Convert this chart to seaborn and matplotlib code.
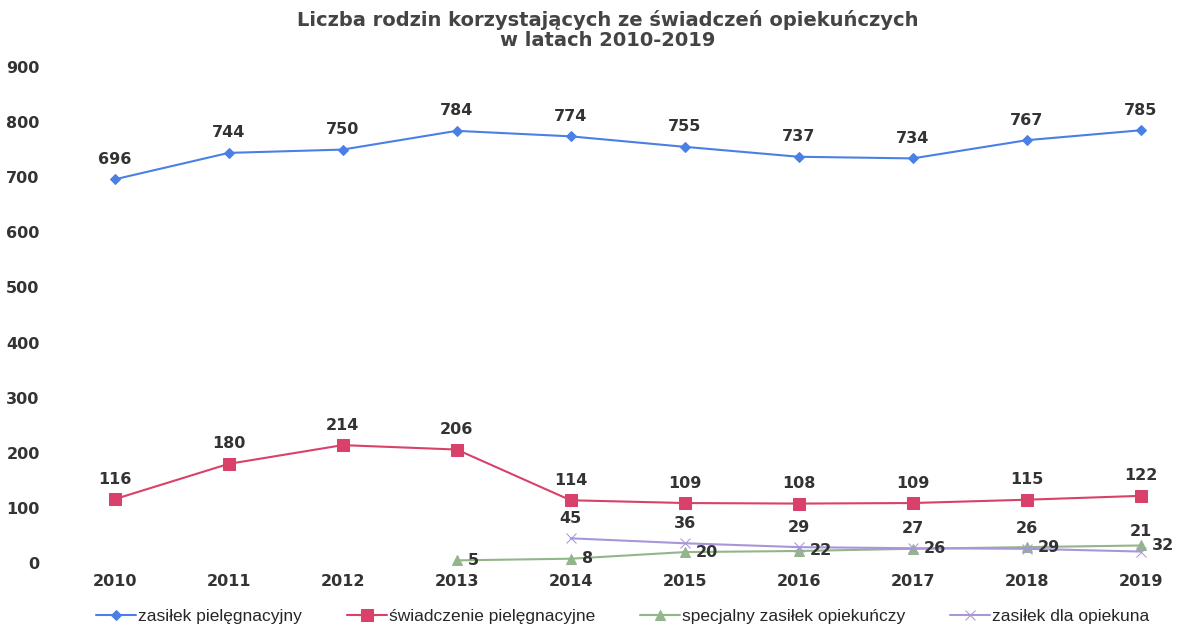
import pandas as pd
import matplotlib.pyplot as plt
import seaborn as sns

years = [2010, 2011, 2012, 2013, 2014, 2015, 2016, 2017, 2018, 2019]
zasilek_piel = [696, 744, 750, 784, 774, 755, 737, 734, 767, 785]
swiadczenie_piel = [116, 180, 214, 206, 114, 109, 108, 109, 115, 122]
spec_years = [2013, 2014, 2015, 2016, 2017, 2018, 2019]
spec_zasilek = [5, 8, 20, 22, 26, 29, 32]
opiek_years = [2014, 2015, 2016, 2017, 2018, 2019]
zasilek_opiek = [45, 36, 29, 27, 26, 21]

sns.set_theme(style='white')
plt.rcParams['font.family'] = ['Liberation Sans', 'DejaVu Sans']

fig = plt.figure(figsize=(11.82, 6.25), dpi=100)
ax = fig.add_axes([0.097, 0.099, 0.868, 0.794])

series = [
    ('zasiłek pielęgnacyjny', years, zasilek_piel, '#4a80e6', 'D', 5, 'above'),
    ('świadczenie pielęgnacyjne', years, swiadczenie_piel, '#d9416a', 's', 8, 'above'),
    ('specjalny zasiłek opiekuńczy', spec_years, spec_zasilek, '#93b58a', '^', 7, 'right'),
    ('zasiłek dla opiekuna', opiek_years, zasilek_opiek, '#a896d8', 'x', 7, 'above'),
]

num_font = dict(family='DejaVu Sans', fontsize=11.5, fontweight='bold', color='#333333')

for name, xs, ys, col, mk, ms, pos in series:
    df = pd.DataFrame({'rok': xs, 'liczba': ys})
    sns.lineplot(data=df, x='rok', y='liczba', ax=ax, color=col, marker=mk,
                 markersize=ms, markeredgecolor=col, linewidth=1.5,
                 label=name, clip_on=False)
    for x, y in zip(xs, ys):
        if pos == 'above':
            ax.annotate(str(y), (x, y), xytext=(0, 9), textcoords='offset points',
                        ha='center', va='bottom', **num_font)
        else:
            ax.annotate(str(y), (x, y), xytext=(8, 0), textcoords='offset points',
                        ha='left', va='center', **num_font)

ax.set_xlim(2010, 2019)
ax.set_ylim(0, 900)
ax.set_xticks(years)
ax.set_xticklabels([str(y) for y in years], **num_font)
ax.set_yticks(range(0, 901, 100))
ax.set_yticklabels([str(v) for v in range(0, 901, 100)], **num_font)
ax.tick_params(axis='y', pad=54, length=0)
ax.tick_params(axis='x', pad=8, length=0)
ax.set_xlabel('')
ax.set_ylabel('')
sns.despine(ax=ax, left=True, bottom=True)

fig.text(0.514, 1 - 30 / 625, 'Liczba rodzin korzystających ze świadczeń opiekuńczych\nw latach 2010-2019',
         ha='center', va='center', family='DejaVu Sans', fontsize=14, fontweight='bold',
         color='#444444', linespacing=1.05)

ax.legend(loc='upper center', bbox_to_anchor=(0.495, -0.06), ncol=4, frameon=False,
          fontsize=12.5, handlelength=2.3, handletextpad=0.1, columnspacing=2.6)

fig.savefig('out.png', dpi=100)
